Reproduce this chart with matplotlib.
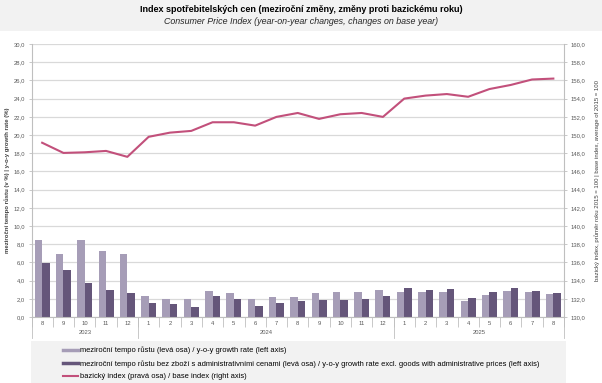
import matplotlib
matplotlib.use("Agg")
import matplotlib.pyplot as plt
from matplotlib.ticker import FuncFormatter, MultipleLocator
import matplotlib.transforms as mtransforms
from matplotlib.patches import Rectangle
from matplotlib.lines import Line2D
import numpy as np

plt.rcParams['font.family'] = ['Liberation Sans', 'DejaVu Sans']

months = ['8', '9', '10', '11', '12', '1', '2', '3', '4', '5', '6', '7', '8',
          '9', '10', '11', '12', '1', '2', '3', '4', '5', '6', '7', '8']
years = ['2023', '2024', '2025']
year_spans = [(0, 5), (5, 17), (17, 25)]

growth = [8.5, 6.9, 8.5, 7.3, 6.9, 2.3, 2.0, 2.0, 2.9, 2.6, 2.0, 2.2, 2.2,
          2.6, 2.8, 2.8, 3.0, 2.8, 2.7, 2.7, 1.8, 2.4, 2.9, 2.7, 2.5]
growth_excl = [5.9, 5.2, 3.75, 3.0, 2.6, 1.57, 1.38, 1.06, 2.26, 2.0, 1.24, 1.57, 1.78,
               1.9, 1.9, 2.0, 2.33, 3.17, 3.0, 3.06, 2.08, 2.8, 3.24, 2.88, 2.66]
base_index = [149.15, 148.03, 148.1, 148.25, 147.6, 149.8, 150.26, 150.45, 151.4, 151.4,
              151.03, 151.99, 152.42, 151.77, 152.28, 152.42, 151.99, 154.0, 154.33,
              154.5, 154.2, 155.05, 155.5, 156.1, 156.2]

title_cz = 'Index spotřebitelských cen (meziroční změny, změny proti bazickému roku)'
title_en = 'Consumer Price Index (year-on-year changes, changes on base year)'
ylabel_left = 'meziroční tempo růstu (v %) | y-o-y growth rate (%)'
ylabel_right = 'bazický index, průměr roku 2015 = 100 | base index, average of 2015 = 100'
leg_labels = ['meziroční tempo růstu (levá osa) / y-o-y growth rate (left axis)',
              'meziroční tempo růstu bez zboží s administrativními cenami (levá osa) / y-o-y growth rate excl. goods with administrative prices (left axis)',
              'bazický index (pravá osa) / base index (right axis)']

c_light = '#A69DB7'
c_dark = '#65567A'
c_line = '#C2507B'
c_grid = '#D9D9D9'
c_spine = '#BFBFBF'
c_text = '#595959'

W, H = 602, 383
fig = plt.figure(figsize=(W / 100, H / 100), dpi=100)
fig.patch.set_facecolor('white')

def px(x0, y0, x1, y1):
    return [x0 / W, 1 - y1 / H, (x1 - x0) / W, (y1 - y0) / H]

# title band
fig.patches.append(Rectangle((0, 1 - 31 / H), 1, 31 / H, transform=fig.transFigure,
                             facecolor='#F2F2F2', edgecolor='none', zorder=0))
fig.text(0.5, 1 - 9.5 / H, title_cz, ha='center', va='center', fontsize=6.45,
         fontweight='bold', color='black')
fig.text(0.5, 1 - 21 / H, title_en, ha='center', va='center', fontsize=6.4,
         style='italic', color='#262626')

# legend band
fig.patches.append(Rectangle((31 / W, 0), (566 - 31) / W, (H - 341) / H,
                             transform=fig.transFigure, facecolor='#F2F2F2',
                             edgecolor='none', zorder=0))

ax = fig.add_axes(px(31.5, 44, 564, 317))
x = np.arange(len(months))
bw = 0.35
ax.bar(x - bw / 2, growth, width=bw, color=c_light, zorder=2)
ax.bar(x + bw / 2, growth_excl, width=bw, color=c_dark, zorder=2)
ax.set_xlim(-0.5, len(months) - 0.5)
ax.set_ylim(0, 30)
ax.yaxis.set_major_locator(MultipleLocator(2))
fmt = FuncFormatter(lambda v, p: f'{v:.1f}'.replace('.', ','))
ax.yaxis.set_major_formatter(fmt)
ax.grid(axis='y', color=c_grid, linewidth=0.9, zorder=0)
ax.set_axisbelow(True)
for s in ['top', 'right']:
    ax.spines[s].set_visible(False)
for s in ['left', 'bottom']:
    ax.spines[s].set_color(c_spine)
    ax.spines[s].set_linewidth(0.8)
ax.tick_params(axis='y', labelsize=4.2, colors=c_text, length=2.5, width=0.6,
               color=c_spine, pad=2)
ax.set_xticks(x, months)
ax.set_xticks(np.arange(-0.5, len(months), 1), minor=True)
ax.tick_params(axis='x', which='major', length=0, labelsize=4.2, labelcolor=c_text, pad=3)
ax.tick_params(axis='x', which='minor', length=7, width=0.6, color=c_spine)
ax.set_ylabel(ylabel_left, fontsize=4.3, fontweight='bold', color='#404040', labelpad=3)

trans = mtransforms.blended_transform_factory(ax.transData, ax.transAxes)
for (a, b), yr in zip(year_spans, years):
    ax.text((a + b - 1) / 2, -0.058, yr, transform=trans, ha='center', va='center',
            fontsize=4.2, color=c_text)
for b in [0, 5, 17, 25]:
    ax.add_line(Line2D([b - 0.5, b - 0.5], [0, -0.077], transform=trans,
                       color=c_spine, linewidth=0.6, clip_on=False))

ax2 = ax.twinx()
ax2.plot(x, base_index, color=c_line, linewidth=1.5, zorder=3)
ax2.set_ylim(130, 160)
ax2.yaxis.set_major_locator(MultipleLocator(2))
ax2.yaxis.set_major_formatter(fmt)
for s in ['top', 'left', 'bottom']:
    ax2.spines[s].set_visible(False)
ax2.spines['right'].set_color(c_spine)
ax2.spines['right'].set_linewidth(0.8)
ax2.tick_params(axis='y', labelsize=4.2, colors=c_text, length=2.5, width=0.6,
                color=c_spine, pad=2)
ax2.set_ylabel(ylabel_right, fontsize=4.3, color='#404040', labelpad=7)

handles = [Line2D([], [], color=c_light, linewidth=2.5),
           Line2D([], [], color=c_dark, linewidth=2.5),
           Line2D([], [], color=c_line, linewidth=1.5)]
fig.legend(handles, leg_labels, loc='upper left', bbox_to_anchor=(63 / W, 1 - 346.5 / H),
           frameon=False, fontsize=5.4, handlelength=2.0, handletextpad=0.25,
           labelspacing=0.75, borderpad=0, borderaxespad=0)

fig.savefig('out.png', dpi=100)
